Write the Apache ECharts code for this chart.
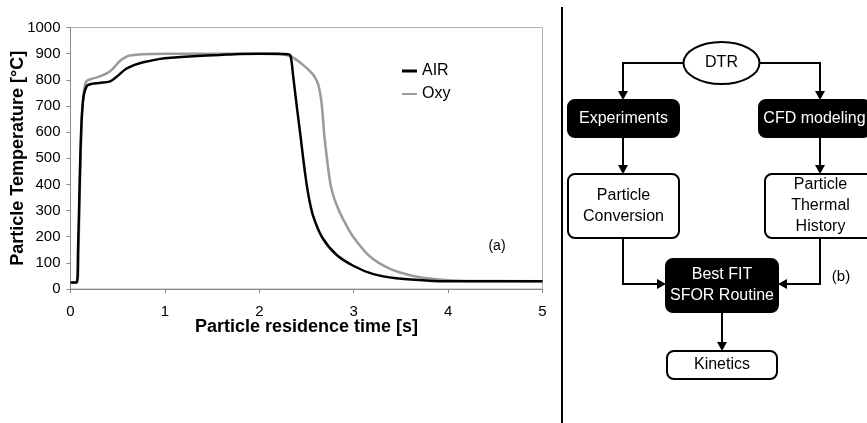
<!DOCTYPE html>
<html>
<head>
<meta charset="utf-8">
<script src="https://cdn.jsdelivr.net/npm/echarts@6/dist/echarts.min.js"></script>
<style>
  html, body { margin: 0; padding: 0; background: #fff; }
  #chart { width: 867px; height: 423px; }
</style>
</head>
<body>
<div id="chart"></div>
<script>
// particle temperature [°C] vs residence time [s]
const airSeries = [
    [0, 25], [0.065, 25], [0.08, 150], [0.1, 450], [0.118, 647], [0.14, 740],
    [0.17, 775], [0.2, 782], [0.3, 788], [0.42, 794], [0.5, 815], [0.59, 842],
    [0.68, 857], [0.77, 867], [0.95, 880], [1.1, 885], [1.3, 890], [1.58, 895],
    [1.8, 899], [2.0, 900], [2.2, 900], [2.3, 898], [2.33, 893], [2.36, 810],
    [2.4, 690], [2.44, 575], [2.48, 456], [2.52, 360], [2.57, 280], [2.67, 195],
    [2.82, 130], [3.0, 88], [3.2, 58], [3.45, 41], [3.8, 32], [4.0, 30], [5.0, 30]
];
const oxySeries = [
    [0, 25], [0.07, 25], [0.085, 150], [0.1, 400], [0.12, 650], [0.14, 750],
    [0.17, 795], [0.22, 803], [0.31, 813], [0.42, 833], [0.52, 871], [0.58, 886],
    [0.63, 893], [0.77, 898], [1.0, 900], [2.0, 900], [2.2, 898], [2.33, 890],
    [2.46, 858], [2.57, 820], [2.61, 795], [2.63, 775], [2.66, 710], [2.69, 583],
    [2.71, 520], [2.73, 460], [2.76, 390], [2.8, 340], [2.85, 295], [2.92, 245],
    [3.0, 197], [3.17, 125], [3.38, 78], [3.63, 50], [3.91, 36], [4.2, 31], [5.0, 30]
];
const seriesNames = ['AIR', 'Oxy'];
const xTitle = 'Particle residence time [s]';
const yTitle = 'Particle Temperature [°C]';

// flow chart texts
const flowTexts = {
    dtr: 'DTR',
    exp: 'Experiments',
    cfd: 'CFD modeling',
    conv: 'Particle\nConversion',
    hist: 'Particle\nThermal\nHistory',
    fit: 'Best FIT\nSFOR Routine',
    kin: 'Kinetics'
};

const FONT = 'Liberation Sans, Arial, sans-serif';
const chart = echarts.init(document.getElementById('chart'));

function box(x, y, w, h, dark, text) {
    return {
        type: 'group',
        children: [
            {
                type: 'rect',
                shape: { x: x, y: y, width: w, height: h, r: 7 },
                style: { fill: dark ? '#000' : '#fff', stroke: '#000', lineWidth: 2 }
            },
            {
                type: 'text',
                style: {
                    text: text,
                    x: x + w / 2,
                    y: y + h / 2,
                    align: 'center',
                    verticalAlign: 'middle',
                    fill: dark ? '#fff' : '#000',
                    font: '16px ' + FONT,
                    lineHeight: 21
                },
                z: 10
            }
        ]
    };
}

function arrow(points) {
    const n = points.length;
    const tip = points[n - 1];
    const prev = points[n - 2];
    const dx = tip[0] - prev[0];
    const dy = tip[1] - prev[1];
    const len = Math.sqrt(dx * dx + dy * dy);
    const ux = dx / len, uy = dy / len;
    const headLen = 9, headW = 5;
    const base = [tip[0] - ux * headLen, tip[1] - uy * headLen];
    const linePts = points.slice(0, n - 1).concat([base]);
    return {
        type: 'group',
        children: [
            {
                type: 'polyline',
                shape: { points: linePts },
                style: { stroke: '#000', lineWidth: 2, fill: null }
            },
            {
                type: 'polygon',
                shape: {
                    points: [
                        tip,
                        [base[0] - uy * headW, base[1] + ux * headW],
                        [base[0] + uy * headW, base[1] - ux * headW]
                    ]
                },
                style: { fill: '#000' }
            }
        ]
    };
}

const graphics = [
    // separator
    {
        type: 'line',
        shape: { x1: 562, y1: 7, x2: 562, y2: 423 },
        style: { stroke: '#000', lineWidth: 2 }
    },
    {
        type: 'text',
        style: { text: '(a)', x: 497, y: 246, align: 'center', verticalAlign: 'middle', fill: '#000', font: '14px ' + FONT }
    },
    {
        type: 'text',
        style: { text: '(b)', x: 841, y: 277, align: 'center', verticalAlign: 'middle', fill: '#000', font: '15px ' + FONT }
    },
    arrow([[683, 63], [623, 63], [623, 100]]),
    arrow([[760, 63], [820, 63], [820, 100]]),
    arrow([[623, 137], [623, 174]]),
    arrow([[820, 137], [820, 174]]),
    arrow([[623, 238], [623, 284], [666, 284]]),
    arrow([[820, 238], [820, 284], [778, 284]]),
    arrow([[722, 312], [722, 351]]),
    {
        type: 'ellipse',
        shape: { cx: 721.5, cy: 63, rx: 38, ry: 21 },
        style: { fill: '#fff', stroke: '#000', lineWidth: 2 }
    },
    {
        type: 'text',
        style: { text: flowTexts.dtr, x: 721.5, y: 63, align: 'center', verticalAlign: 'middle', fill: '#000', font: '16px ' + FONT }
    },
    box(568, 100, 111, 37, true, flowTexts.exp),
    box(759, 100, 111, 37, true, flowTexts.cfd),
    box(568, 174, 111, 64, false, flowTexts.conv),
    box(765, 174, 111, 64, false, flowTexts.hist),
    box(666, 259, 112, 53, true, flowTexts.fit),
    box(667, 351, 110, 28, false, flowTexts.kin)
];

const legendText = { fontSize: 16, color: '#000', fontFamily: FONT };

const option = {
    backgroundColor: '#fff',
    animation: false,
    textStyle: { fontFamily: FONT },
    grid: {
        left: 70.5,
        right: 324.5,
        top: 27.5,
        bottom: 134,
        outerBoundsMode: 'none',
        containLabel: false,
        show: true,
        borderColor: '#b0b0b0',
        borderWidth: 1
    },
    legend: [
        {
            left: 402,
            top: 63,
            padding: 0,
            icon: 'rect',
            itemWidth: 15,
            itemHeight: 3,
            itemGap: 4,
            textStyle: legendText,
            data: [seriesNames[0]]
        },
        {
            left: 402,
            top: 86,
            padding: 0,
            icon: 'rect',
            itemWidth: 15,
            itemHeight: 2,
            itemGap: 4,
            textStyle: legendText,
            data: [seriesNames[1]]
        }
    ],
    xAxis: {
        type: 'value',
        min: 0,
        max: 5,
        interval: 1,
        name: xTitle,
        nameLocation: 'middle',
        nameGap: 29,
        nameMoveOverlap: false,
        nameTextStyle: { fontSize: 18, fontWeight: 'bold', color: '#000', fontFamily: FONT },
        axisLine: { show: true, lineStyle: { color: '#888', width: 1 } },
        axisTick: { show: true, length: 4, lineStyle: { color: '#888' } },
        axisLabel: { fontSize: 15, color: '#000', margin: 15, fontFamily: FONT },
        splitLine: { show: false }
    },
    yAxis: {
        type: 'value',
        min: 0,
        max: 1000,
        interval: 100,
        name: yTitle,
        nameLocation: 'middle',
        nameGap: 43,
        nameMoveOverlap: false,
        nameTextStyle: { fontSize: 18, fontWeight: 'bold', color: '#000', fontFamily: FONT },
        axisLine: { show: true, lineStyle: { color: '#888', width: 1 } },
        axisTick: { show: true, length: 4, lineStyle: { color: '#888' } },
        axisLabel: {
            fontSize: 15,
            color: '#000',
            margin: 10,
            fontFamily: FONT,
            formatter: function (v) { return String(v); }
        },
        splitLine: { show: false }
    },
    series: [
        {
            name: seriesNames[0],
            type: 'line',
            data: airSeries,
            symbol: 'none',
            smooth: 0.35,
            lineStyle: { color: '#000', width: 2.5 },
            itemStyle: { color: '#000' },
            z: 3
        },
        {
            name: seriesNames[1],
            type: 'line',
            data: oxySeries,
            symbol: 'none',
            smooth: 0.35,
            lineStyle: { color: '#9a9a9a', width: 2.5 },
            itemStyle: { color: '#9a9a9a' },
            z: 2
        }
    ],
    graphic: graphics
};

chart.setOption(option);
</script>
</body>
</html>
